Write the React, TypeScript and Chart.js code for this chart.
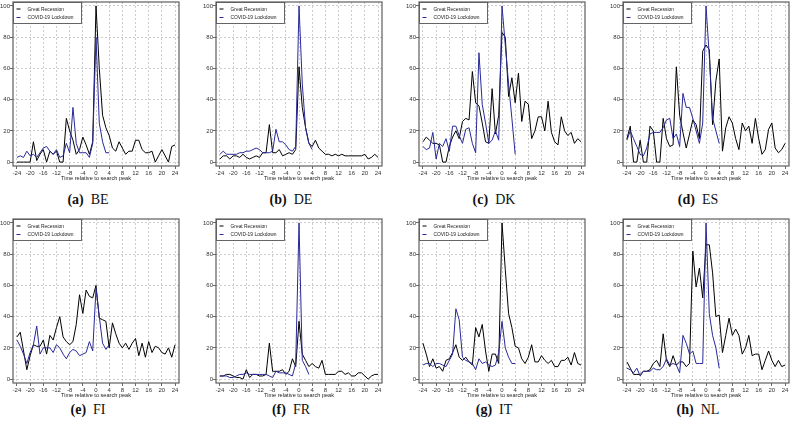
import React, { useEffect, useRef } from 'react';
import { Chart, registerables } from 'chart.js';

Chart.register(...registerables);

// ---------- data ----------
const weeks = [-24, -23, -22, -21, -20, -19, -18, -17, -16, -15, -14, -13, -12, -11, -10, -9, -8, -7, -6, -5, -4, -3, -2, -1, 0, 1, 2, 3, 4, 5, 6, 7, 8, 9, 10, 11, 12, 13, 14, 15, 16, 17, 18, 19, 20, 21, 22, 23, 24];
const xTickValues = [-24, -20, -16, -12, -8, -4, 0, 4, 8, 12, 16, 20, 24];
const yTickValues = [0, 20, 40, 60, 80, 100];
const seriesNames = ['Great Recession', 'COVID-19 Lockdown'];
const axisTitle = 'Time relative to search peak';

const beRecession = [0, 0, 0, 0, 0, 13, 1, 5, 8, 0, 7, 5, 7, 0, 0, 28, 20, 14, 5, 8, 16, 11, 5, 13, 100, 60, 30, 22, 17, 9, 7, 13, 9, 5, 7, 7, 14, 14, 8, 6, 6, 7, 0, 4, 8, 4, 0, 10, 11];
const beCovid = [3, 4, 3, 7, 4, 5, 3, 6, 9, 10, 7, 5, 8, 3, 4, 12, 6, 35, 12, 6, 6, 6, 3, 12, 80, 25, 13, 6, 6];

const deRecession = [2, 4, 4, 2, 4, 4, 3, 5, 3, 2, 3, 4, 3, 6, 6, 24, 6, 6, 8, 4, 5, 6, 5, 8, 61, 35, 22, 12, 10, 14, 9, 7, 5, 5, 4, 5, 4, 5, 4, 4, 4, 4, 4, 4, 5, 2, 3, 5, 3];
const deCovid = [5, 7, 5, 5, 5, 5, 6, 6, 7, 7, 8, 9, 8, 6, 6, 6, 7, 21, 13, 13, 11, 8, 7, 10, 100, 50, 22, 12, 8];

const dkRecession = [13, 16, 14, 12, 12, 11, 0, 0, 10, 16, 20, 15, 26, 28, 27, 58, 38, 36, 25, 13, 12, 47, 18, 30, 83, 80, 42, 54, 38, 57, 26, 39, 37, 15, 20, 29, 29, 20, 39, 19, 13, 11, 29, 20, 17, 19, 12, 15, 13];
const dkCovid = [10, 8, 9, 19, 2, 12, 10, 15, 7, 23, 23, 17, 12, 21, 22, 12, 6, 70, 37, 25, 12, 14, 20, 14, 100, 75, 50, 28, 5];

const esRecession = [15, 23, 0, 0, 14, 0, 0, 23, 20, 0, 0, 28, 15, 10, 11, 61, 30, 19, 9, 18, 27, 24, 15, 71, 75, 72, 24, 52, 66, 7, 22, 29, 25, 15, 8, 25, 20, 23, 12, 28, 15, 5, 8, 21, 25, 9, 6, 8, 12];
const esCovid = [14, 20, 15, 10, 5, 4, 9, 18, 19, 19, 19, 22, 27, 28, 15, 18, 10, 44, 35, 35, 28, 20, 12, 25, 100, 68, 28, 20, 12];

const fiRecession = [27, 30, 18, 6, 15, 22, 21, 21, 25, 16, 28, 25, 33, 40, 27, 24, 22, 24, 35, 54, 42, 57, 53, 52, 60, 39, 38, 37, 20, 36, 29, 23, 20, 23, 19, 23, 26, 15, 23, 14, 24, 17, 21, 20, 17, 16, 20, 14, 22];
const fiCovid = [25, 21, 16, 10, 17, 22, 34, 16, 20, 20, 20, 17, 22, 20, 16, 13, 17, 19, 18, 15, 16, 17, 24, 18, 58, 40, 23, 19, 22];

const frRecession = [2, 2, 3, 3, 2, 1, 1, 0, 6, 1, 3, 3, 2, 2, 3, 23, 5, 5, 5, 6, 3, 5, 13, 8, 37, 16, 12, 8, 10, 8, 7, 12, 3, 3, 3, 3, 5, 5, 3, 4, 2, 2, 4, 4, 2, 0, 2, 3, 3];
const frCovid = [2, 2, 2, 1, 1, 2, 3, 3, 4, 3, 3, 3, 3, 3, 3, 2, 1, 5, 4, 4, 4, 3, 2, 10, 100, 12, 8, 3];

const itRecession = [23, 16, 8, 13, 7, 8, 5, 12, 13, 17, 22, 14, 12, 14, 11, 9, 33, 27, 35, 18, 5, 16, 16, 10, 100, 70, 42, 33, 21, 20, 13, 10, 14, 22, 11, 11, 15, 12, 10, 12, 8, 8, 12, 12, 14, 9, 17, 10, 9];
const itCovid = [9, 10, 10, 8, 10, 10, 9, 8, 12, 16, 45, 38, 14, 12, 11, 10, 6, 13, 10, 11, 9, 8, 9, 17, 37, 20, 14, 10, 10];

const nlRecession = [11, 7, 3, 3, 3, 5, 5, 6, 10, 12, 8, 29, 12, 8, 15, 9, 11, 11, 8, 10, 82, 59, 71, 52, 86, 86, 68, 40, 41, 17, 28, 39, 28, 32, 28, 16, 20, 28, 15, 16, 16, 6, 12, 18, 12, 8, 12, 8, 9];
const nlCovid = [7, 6, 4, 7, 2, 5, 5, 5, 7, 6, 6, 8, 13, 9, 10, 9, 4, 28, 23, 16, 18, 10, 10, 10, 100, 42, 28, 20, 7];

const panels = [
  { tag: '(a)', country: 'BE', recession: beRecession, covid: beCovid },
  { tag: '(b)', country: 'DE', recession: deRecession, covid: deCovid },
  { tag: '(c)', country: 'DK', recession: dkRecession, covid: dkCovid },
  { tag: '(d)', country: 'ES', recession: esRecession, covid: esCovid },
  { tag: '(e)', country: 'FI', recession: fiRecession, covid: fiCovid },
  { tag: '(f)', country: 'FR', recession: frRecession, covid: frCovid },
  { tag: '(g)', country: 'IT', recession: itRecession, covid: itCovid },
  { tag: '(h)', country: 'NL', recession: nlRecession, covid: nlCovid },
];

// ---------- layout / style ----------
const COL_LEFT = [13, 216, 419, 623];
const ROW_TOP = [1, 218];
const CAPTION_Y = [199.5, 409.5];
const BOX_W = 166;
const BOX_H = 165;
const Y_AXIS_W = 14;
const X_AXIS_H = 16;
const PAD_TOP = 2;
const PAD_RIGHT = 2;
const SANS = "'Liberation Sans', Arial, sans-serif";
const BLACK = '#000000';
const BLUE = '#28289a';
const GRID = '#cdcdcd';

const framePlugin = {
  id: 'frameBox',
  afterDraw(chart: any) {
    const { ctx, chartArea: a } = chart;
    ctx.save();
    ctx.strokeStyle = '#5e5e5e';
    ctx.lineWidth = 1.2;
    ctx.strokeRect(a.left, a.top, a.right - a.left, a.bottom - a.top);
    ctx.restore();
  },
};

const legendPlugin = {
  id: 'insideLegend',
  afterDraw(chart: any) {
    const { ctx, chartArea: a } = chart;
    const x = a.left + 0.5;
    const y = a.top + 0.5;
    const w = 68;
    const h = 21;
    ctx.save();
    ctx.fillStyle = '#ffffff';
    ctx.fillRect(x, y, w, h);
    ctx.strokeStyle = '#555555';
    ctx.lineWidth = 0.9;
    ctx.strokeRect(x, y, w, h);
    const colors = [BLACK, BLUE];
    const rows = [y + 6.5, y + 15];
    chart.data.datasets.forEach((ds: any, i: number) => {
      ctx.strokeStyle = colors[i];
      ctx.lineWidth = 1;
      ctx.beginPath();
      ctx.moveTo(x + 3, rows[i]);
      ctx.lineTo(x + 7, rows[i]);
      ctx.stroke();
      ctx.fillStyle = '#222222';
      ctx.font = `4.9px ${SANS}`;
      ctx.textBaseline = 'middle';
      ctx.textAlign = 'left';
      ctx.fillText(ds.label, x + 14, rows[i] + 0.3);
    });
    ctx.restore();
  },
};

function Panel({ panel, col, row }: { panel: any; col: number; row: number }) {
  const ref = useRef<HTMLCanvasElement>(null);
  const width = Y_AXIS_W + BOX_W + PAD_RIGHT;
  const height = PAD_TOP + BOX_H + X_AXIS_H;
  useEffect(() => {
    const toPoints = (vals: number[]) => vals.map((v, i) => ({ x: weeks[i], y: v }));
    const chart = new Chart(ref.current as HTMLCanvasElement, {
      type: 'line',
      data: {
        datasets: [
          {
            label: seriesNames[0],
            data: toPoints(panel.recession),
            borderColor: BLACK,
            borderWidth: 1,
            pointRadius: 0,
            tension: 0,
            fill: false,
            order: 1,
          },
          {
            label: seriesNames[1],
            data: toPoints(panel.covid),
            borderColor: BLUE,
            borderWidth: 1,
            pointRadius: 0,
            tension: 0,
            fill: false,
            order: 0,
          },
        ],
      },
      options: {
        animation: false,
        responsive: false,
        devicePixelRatio: 1,
        events: [],
        layout: { padding: { top: PAD_TOP, right: PAD_RIGHT, left: 0, bottom: 0 } },
        plugins: { legend: { display: false }, tooltip: { enabled: false } },
        scales: {
          x: {
            type: 'linear',
            min: -25.2,
            max: 25.2,
            afterBuildTicks: (s: any) => {
              s.ticks = xTickValues.map((v) => ({ value: v }));
            },
            afterFit: (s: any) => {
              s.height = X_AXIS_H;
            },
            grid: { color: GRID, lineWidth: 1, tickColor: '#444', tickLength: 3, tickWidth: 0.8 },
            border: { display: false, dash: [2, 2] },
            ticks: {
              font: { family: SANS, size: 6, lineHeight: 1 },
              color: '#333',
              padding: 1,
              maxRotation: 0,
              autoSkip: false,
              callback: (v: any) => String(v),
            },
            title: {
              display: true,
              text: axisTitle,
              font: { family: SANS, size: 5.6, lineHeight: 1 },
              color: '#222',
              padding: { top: 0, bottom: 1 },
            },
          },
          y: {
            type: 'linear',
            min: -2.5,
            max: 102.5,
            afterBuildTicks: (s: any) => {
              s.ticks = yTickValues.map((v) => ({ value: v }));
            },
            afterFit: (s: any) => {
              s.width = Y_AXIS_W;
            },
            grid: { color: GRID, lineWidth: 1, tickColor: '#444', tickLength: 3, tickWidth: 0.8 },
            border: { display: false, dash: [2, 2] },
            ticks: {
              font: { family: SANS, size: 6, lineHeight: 1 },
              color: '#333',
              padding: 0,
              autoSkip: false,
              callback: (v: any) => String(v),
            },
          },
        },
      },
      plugins: [framePlugin, legendPlugin],
    } as any);
    return () => chart.destroy();
  }, [panel]);

  return (
    <canvas
      ref={ref}
      width={width}
      height={height}
      style={{
        position: 'absolute',
        left: COL_LEFT[col] - Y_AXIS_W,
        top: ROW_TOP[row] - PAD_TOP,
        width,
        height,
      }}
    />
  );
}

function Caption({ panel, col, row }: { panel: any; col: number; row: number }) {
  const center = COL_LEFT[col] + BOX_W / 2 - 8;
  return (
    <div
      style={{
        position: 'absolute',
        left: center - 60,
        top: CAPTION_Y[row] - 8,
        width: 120,
        height: 16,
        lineHeight: '16px',
        textAlign: 'center',
        fontFamily: "'Liberation Serif', 'Times New Roman', serif",
        fontSize: 14,
        color: '#111',
        whiteSpace: 'nowrap',
      }}
    >
      <span style={{ fontWeight: 'bold' }}>{panel.tag}</span>
      <span style={{ marginLeft: 7 }}>{panel.country}</span>
    </div>
  );
}

export default function App() {
  return (
    <div
      style={{
        position: 'fixed',
        left: 0,
        top: 0,
        width: 791,
        height: 423,
        background: '#ffffff',
        overflow: 'hidden',
      }}
    >
      {panels.map((p, i) => (
        <React.Fragment key={p.country}>
          <Panel panel={p} col={i % 4} row={Math.floor(i / 4)} />
          <Caption panel={p} col={i % 4} row={Math.floor(i / 4)} />
        </React.Fragment>
      ))}
    </div>
  );
}
